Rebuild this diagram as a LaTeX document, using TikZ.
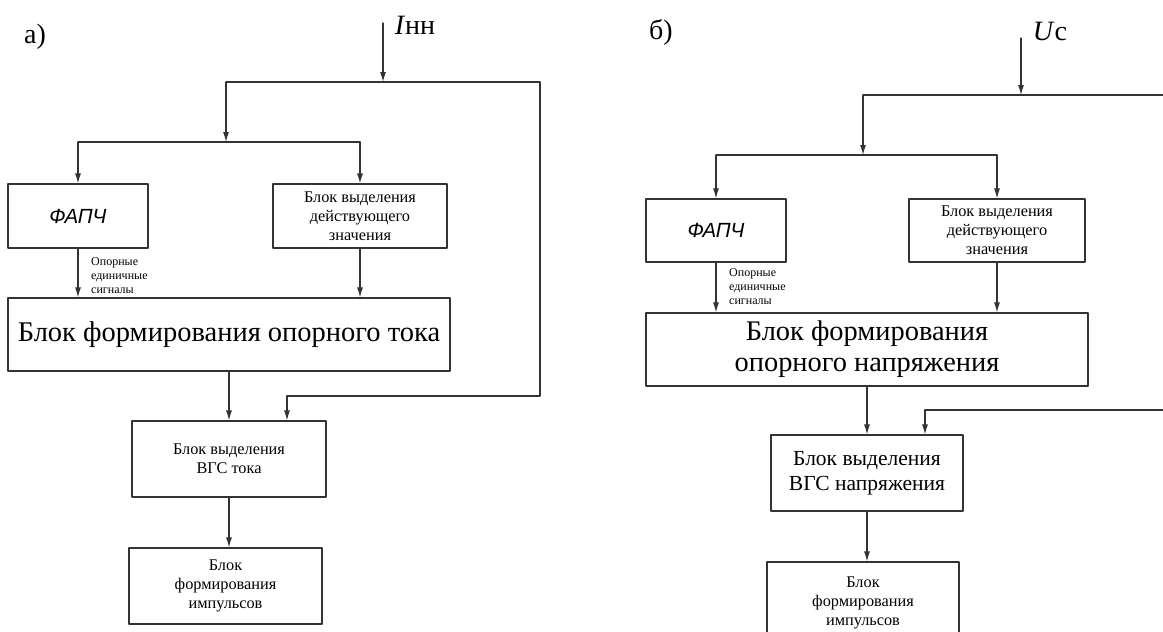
\documentclass[tikz,border=0pt]{standalone}
\usepackage{fontspec}
\setmainfont{Liberation Serif}
\newfontfamily\gostfont{Liberation Sans}
\usetikzlibrary{arrows.meta}
\tikzset{
	blok/.style={draw=black!80, line width=1.1pt, inner sep=0pt, align=center},
	strel/.style={draw=black!80, line width=1.1pt, -{Latex[length=10pt,width=6pt]}},
	liniya/.style={draw=black!80, line width=1.1pt}
}
\newcommand{\shrift}[2]{\fontsize{#1}{#2}\selectfont}
\begin{document}
\begin{tikzpicture}[x=1pt, y=-1pt, line join=round, line cap=round]
		\useasboundingbox (0,0) rectangle (1163,632);
		\clip (0,0) rectangle (1163,632);
		% а) ток
		\node[font=\shrift{28}{30}] (nazvA) at (35,37) {а)};
		\node[font=\shrift{28}{30}] (vhodA) at (415,25) {\textit{I}нн};
		\coordinate (inA) at (383,23);
		\coordinate (jA) at (383,82);
		\coordinate (lA) at (226,82);
		\coordinate (rA) at (540,82);
		\coordinate (kA) at (226,142);
		\coordinate (fA) at (78,142);
		\coordinate (dA) at (360,142);
		\coordinate (obA) at (287,396);
		\node[blok, minimum width=140pt, minimum height=64pt, font=\gostfont\itshape\shrift{20.5}{22}] (fapchA) at (78,216) {ФАПЧ};
		\node[blok, minimum width=174pt, minimum height=64pt, font=\shrift{16.3}{19}] (deistA) at (360,216) {Блок выделения\\ действующего\\ значения};
		\node[blok, minimum width=442pt, minimum height=73pt, font=\shrift{28.5}{31}] (oporA) at (229,334.5) {Блок формирования опорного тока};
		\node[blok, minimum width=194pt, minimum height=76pt, font=\shrift{16.3}{19}] (vgsA) at (229,459) {Блок выделения\\ ВГС тока};
		\node[blok, minimum width=193pt, minimum height=76pt, font=\shrift{16.3}{19}] (impA) at (225.5,586) {Блок\\ формирования\\ импульсов};
		\node[anchor=west, align=left, inner sep=0pt, font=\shrift{12}{14}] (sigA) at (91,276) {Опорные\\ единичные\\ сигналы};
		\draw[strel] (inA) -- (jA);
		\draw[liniya] (lA) -- (rA);
		\draw[strel] (lA) -- (kA);
		\draw[liniya] (fA) -- (dA);
		\draw[strel] (fA) -- (fapchA.north);
		\draw[strel] (dA) -- (deistA.north);
		\draw[strel] (fapchA.south) -- (fapchA.south |- oporA.north);
		\draw[strel] (deistA.south) -- (deistA.south |- oporA.north);
		\draw[strel] (oporA.south) -- (oporA.south |- vgsA.north);
		\draw[strel] (rA) |- (obA) -- (obA |- vgsA.north);
		\draw[strel] (vgsA.south) -- (vgsA.south |- impA.north);
		% б) напряжение
		\node[font=\shrift{28}{30}] (nazvB) at (661,32) {б)};
		\node[font=\shrift{28}{30}] (vhodB) at (1050,31) {\textit{U}с};
		\coordinate (inB) at (1021,38);
		\coordinate (jB) at (1021,95);
		\coordinate (lB) at (863,95);
		\coordinate (rB) at (1163,95);
		\coordinate (kB) at (863,155);
		\coordinate (fB) at (716,155);
		\coordinate (dB) at (997,155);
		\coordinate (krB) at (1163,410);
		\coordinate (obB) at (925,410);
		\node[blok, minimum width=140pt, minimum height=63pt, font=\gostfont\itshape\shrift{20.5}{22}] (fapchB) at (716,230.5) {ФАПЧ};
		\node[blok, minimum width=176pt, minimum height=63pt, font=\shrift{16.3}{19}] (deistB) at (997,230.5) {Блок выделения\\ действующего\\ значения};
		\node[blok, minimum width=442pt, minimum height=73pt, font=\shrift{28.4}{31}] (oporB) at (867,349.5) {Блок формирования\\ опорного напряжения};
		\node[blok, minimum width=192pt, minimum height=76pt, font=\shrift{21.5}{25}] (vgsB) at (867,473) {Блок выделения\\ ВГС напряжения};
		\node[blok, minimum width=192pt, minimum height=82pt, font=\shrift{16.3}{19}] (impB) at (863,603) {Блок\\ формирования\\ импульсов};
		\node[anchor=west, align=left, inner sep=0pt, font=\shrift{12}{14}] (sigB) at (729,287) {Опорные\\ единичные\\ сигналы};
		\draw[strel] (inB) -- (jB);
		\draw[liniya] (lB) -- (rB);
		\draw[strel] (lB) -- (kB);
		\draw[liniya] (fB) -- (dB);
		\draw[strel] (fB) -- (fapchB.north);
		\draw[strel] (dB) -- (deistB.north);
		\draw[strel] (fapchB.south) -- (fapchB.south |- oporB.north);
		\draw[strel] (deistB.south) -- (deistB.south |- oporB.north);
		\draw[strel] (oporB.south) -- (oporB.south |- vgsB.north);
		\draw[strel] (krB) -- (obB) -- (obB |- vgsB.north);
		\draw[strel] (vgsB.south) -- (vgsB.south |- impB.north);
\end{tikzpicture}
\end{document}
